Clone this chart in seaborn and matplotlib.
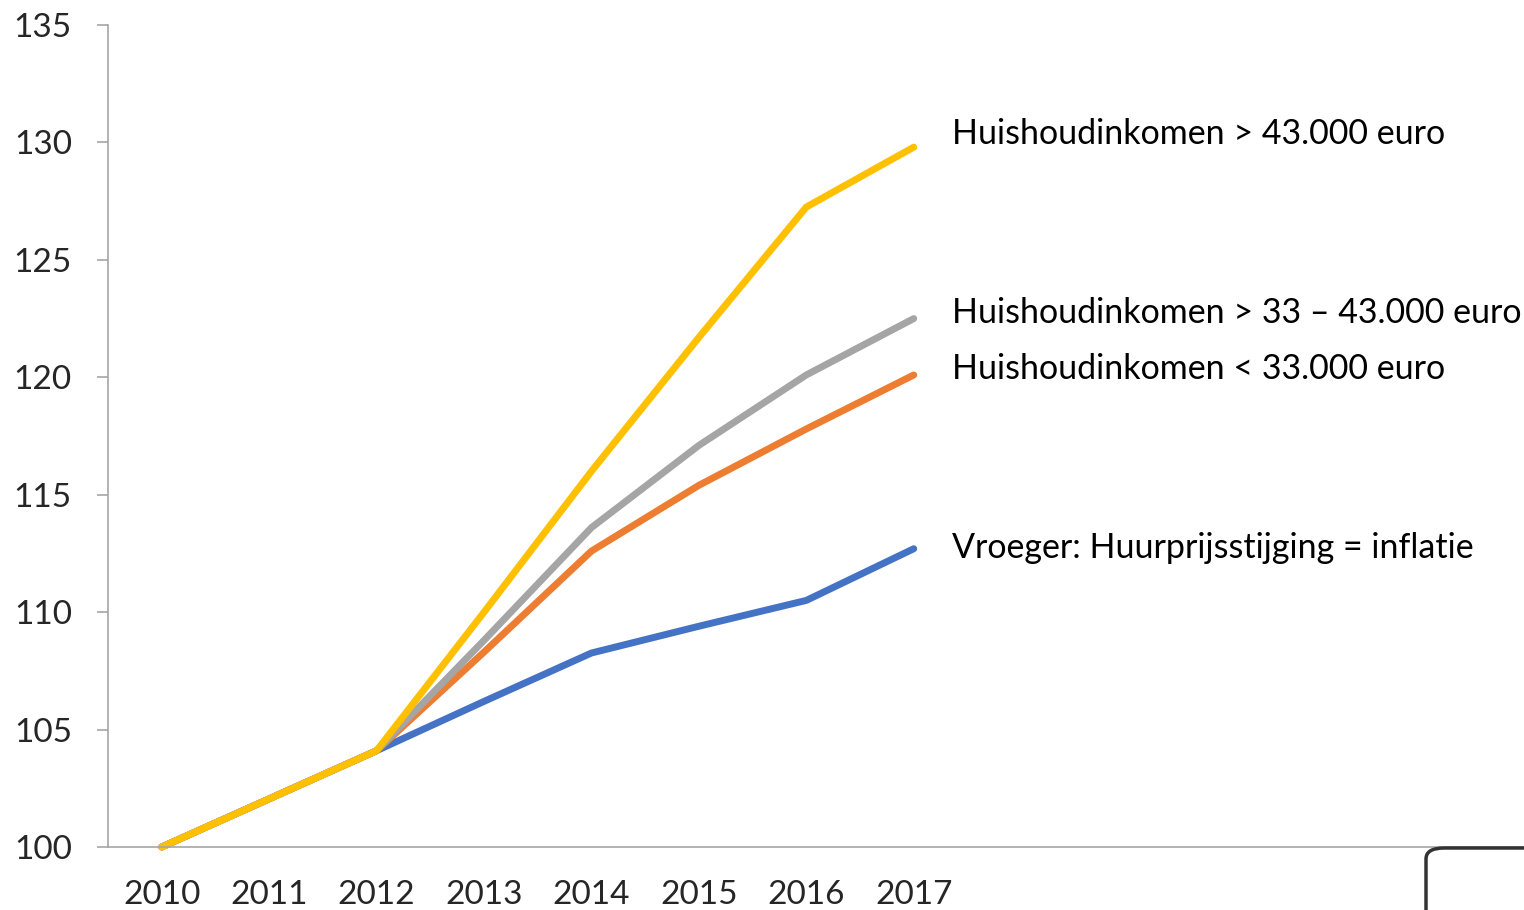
import numpy as np
import pandas as pd
import matplotlib
matplotlib.use('Agg')
import matplotlib.pyplot as plt
import seaborn as sns
from matplotlib.patches import FancyBboxPatch

years = ['2010', '2011', '2012', '2013', '2014', '2015', '2016', '2017']
inflatie = [100, 102.05, 104.1, 106.2, 108.26, 109.4, 110.5, 112.7]
laag = [100, 102.05, 104.1, 108.3, 112.6, 115.4, 117.8, 120.1]
midden = [100, 102.05, 104.1, 108.8, 113.6, 117.1, 120.1, 122.5]
hoog = [100, 102.05, 104.1, 110.0, 116.0, 121.7, 127.25, 129.8]

names = ['Vroeger: Huurprijsstijging = inflatie',
         'Huishoudinkomen < 33.000 euro',
         'Huishoudinkomen > 33 \u2013 43.000 euro',
         'Huishoudinkomen > 43.000 euro']
label_y = [112.75, 120.35, 122.75, 130.35]
colors = ['#4472C4', '#ED7D31', '#A5A5A5', '#FFC000']

rows = []
for name, vals in zip(names, [inflatie, laag, midden, hoog]):
    for i, v in enumerate(vals):
        rows.append({'serie': name, 'x': i, 'waarde': v})
df = pd.DataFrame(rows)

sns.set_style('white')
plt.rcParams['font.family'] = ['Lato', 'DejaVu Sans']

fig = plt.figure(figsize=(15.24, 9.10), dpi=100)
ax = fig.add_axes([108 / 1524, 1 - 847 / 910, 1 - 108 / 1524, (847 - 25) / 910])

sns.lineplot(data=df, x='x', y='waarde', hue='serie', hue_order=names,
             palette=colors, linewidth=5, legend=False, ax=ax,
             solid_capstyle='round', solid_joinstyle='round', clip_on=False)

for name, ly in zip(names, label_y):
    ax.text(7.36, ly, name, fontsize=24.5, va='center', ha='left', color='black')

ax.set_xlim(-0.5, 12.68)
ax.set_ylim(100, 135)
ax.set_yticks(np.arange(100, 136, 5))
ax.set_xticks(range(len(years)))
ax.set_xticklabels(years)
ax.set_xticks(np.arange(-0.5, 13, 1), minor=True)
ax.tick_params(axis='x', which='major', length=0, pad=24, labelsize=24)
ax.tick_params(axis='x', which='minor', length=8, width=1.2, color='#A6A6A6', direction='out')
ax.tick_params(axis='y', length=8, width=1.2, color='#A6A6A6', pad=18, labelsize=24, left=True)
ax.set_xlabel('')
ax.set_ylabel('')

sns.despine(ax=ax, top=True, right=True)
for s in ['left', 'bottom']:
    ax.spines[s].set_color('#A6A6A6')
    ax.spines[s].set_linewidth(1.2)

# piece of a logo box in the lower right corner
box = FancyBboxPatch((1426 / 1524, -0.05), 0.2, (910 - 848) / 910 + 0.05,
                     boxstyle='round,pad=0,rounding_size=0.012',
                     transform=fig.transFigure, fill=False, edgecolor='#333333',
                     linewidth=2.5, clip_on=False)
fig.patches.append(box)

fig.savefig('out.png', dpi=100)
